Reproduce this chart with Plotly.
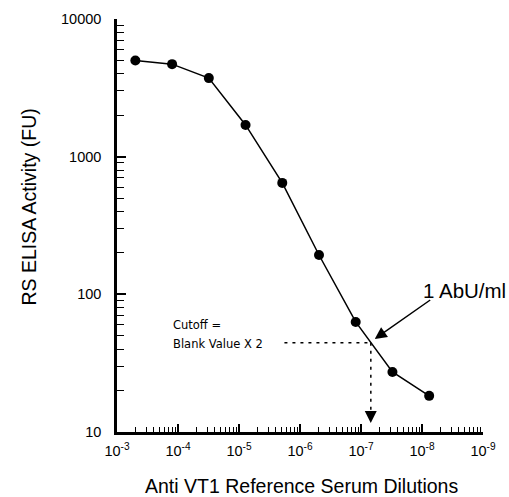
import plotly.graph_objects as go

# ---- data ----
dilutions = [5e-4, 1.25e-4, 3.125e-5, 7.8125e-6, 1.953e-6, 4.883e-7, 1.221e-7, 3.052e-8, 7.629e-9]
activity = [5000, 4700, 3720, 1700, 645, 193, 63, 27.3, 18.3]

cutoff_value = 44.5          # Blank value x 2 (FU)
cutoff_dilution = 6.9e-8     # dilution where curve crosses the cutoff
cutoff_text_start = 1.8e-6   # where the dotted cutoff line starts
arrow_tip_y = 11.6           # bottom of dotted vertical arrow

x_tickvals = [1e-3, 1e-4, 1e-5, 1e-6, 1e-7, 1e-8, 1e-9]
x_ticktext = ["10<sup>-3</sup>", "10<sup>-4</sup>", "10<sup>-5</sup>", "10<sup>-6</sup>",
              "10<sup>-7</sup>", "10<sup>-8</sup>", "10<sup>-9</sup>"]
y_tickvals = [10, 100, 1000, 10000]
y_ticktext = ["10", "100", "1000", "10000"]

# minor ticks: x as drawn in the original (mirrored per decade), y regular log 2..9
x_minor = []
for e in range(-4, -10, -1):
    for k in range(2, 10):
        x_minor.append(10 ** e * 10 / k)
y_minor = []
for e in range(1, 4):
    for k in range(2, 10):
        y_minor.append(k * 10 ** e)

W, H = 509, 497
L, R, T, B = 117, 26, 19, 65
pw, ph = W - L - R, H - T - B


def px(x):
    return (x - L) / pw


def py(y):
    return (H - B - y) / ph


fig = go.Figure()

# dotted cutoff lines
fig.add_trace(go.Scatter(
    x=[cutoff_text_start, cutoff_dilution], y=[cutoff_value, cutoff_value],
    mode="lines", line=dict(color="black", width=1.5, dash="3px,5px"),
    hoverinfo="skip", showlegend=False))
fig.add_trace(go.Scatter(
    x=[cutoff_dilution, cutoff_dilution], y=[cutoff_value, arrow_tip_y * 1.12],
    mode="lines", line=dict(color="black", width=1.5, dash="3px,5px"),
    hoverinfo="skip", showlegend=False))

# main curve
fig.add_trace(go.Scatter(
    x=dilutions, y=activity, mode="lines+markers",
    line=dict(color="black", width=1.5),
    marker=dict(color="black", size=10),
    showlegend=False))

axis_font = dict(family="Liberation Sans, Arial, sans-serif", size=14.5, color="black")

fig.update_layout(
    width=W, height=H,
    margin=dict(l=L, r=R, t=T, b=B, autoexpand=False),
    paper_bgcolor="white", plot_bgcolor="white",
    xaxis=dict(
        type="log", range=[-3, -9],
        showgrid=False, zeroline=False,
        showline=True, linecolor="black", linewidth=2.5,
        tickmode="array", tickvals=x_tickvals, ticktext=x_ticktext,
        ticks="inside", ticklen=8, tickwidth=1.5, tickcolor="black",
        ticklabelstandoff=4,
        minor=dict(tickmode="array", tickvals=x_minor, ticks="inside",
                   ticklen=5, tickwidth=1, tickcolor="black", showgrid=False),
        tickfont=axis_font,
    ),
    yaxis=dict(
        type="log", range=[1, 4],
        showgrid=False, zeroline=False,
        showline=True, linecolor="black", linewidth=2.5,
        tickmode="array", tickvals=y_tickvals, ticktext=y_ticktext,
        ticks="inside", ticklen=9, tickwidth=1.5, tickcolor="black",
        ticklabelstandoff=10,
        minor=dict(tickmode="array", tickvals=y_minor, ticks="inside",
                   ticklen=7, tickwidth=1, tickcolor="black", showgrid=False),
        tickfont=axis_font,
    ),
)

title_font = dict(family="Liberation Sans, Arial, sans-serif", size=19.5, color="black")
small_font = dict(family="DejaVu Sans, Verdana, sans-serif", size=11.5, color="black")

fig.add_annotation(text="RS ELISA Activity (FU)", xref="paper", yref="paper",
                   x=px(28), y=py(207.5), textangle=-90, showarrow=False,
                   xanchor="center", yanchor="middle", font=title_font)
fig.add_annotation(text="Anti VT1 Reference Serum Dilutions", xref="paper", yref="paper",
                   x=px(301.5), y=py(486), showarrow=False,
                   xanchor="center", yanchor="middle", font=title_font)
fig.add_annotation(text="Cutoff =", xref="paper", yref="paper",
                   x=px(171), y=py(325), showarrow=False,
                   xanchor="left", yanchor="middle", font=small_font)
fig.add_annotation(text="Blank Value X 2", xref="paper", yref="paper",
                   x=px(171), y=py(343.5), showarrow=False,
                   xanchor="left", yanchor="middle", font=small_font)
fig.add_annotation(text="1 AbU/ml", xref="paper", yref="paper",
                   x=px(421), y=py(290), showarrow=False,
                   xanchor="left", yanchor="middle",
                   font=dict(family="Liberation Sans, Arial, sans-serif", size=20.5, color="black"))

# solid arrow pointing to the crossing point
fig.add_annotation(x=-7.225, y=1.676, xref="x", yref="y", text="",
                   showarrow=True, ax=57, ay=-40, arrowhead=2, arrowsize=1.6,
                   arrowwidth=1.5, arrowcolor="black")
# arrowhead of the dotted vertical arrow
fig.add_annotation(x=-7.16, y=1.066, xref="x", yref="y", text="",
                   showarrow=True, ax=0, ay=-7, arrowhead=2, arrowsize=1.6,
                   arrowwidth=1.5, arrowcolor="black")

fig.write_html("out.html", config={"displayModeBar": False},
               post_script="document.body.style.margin='0';document.body.style.overflow='hidden';")
